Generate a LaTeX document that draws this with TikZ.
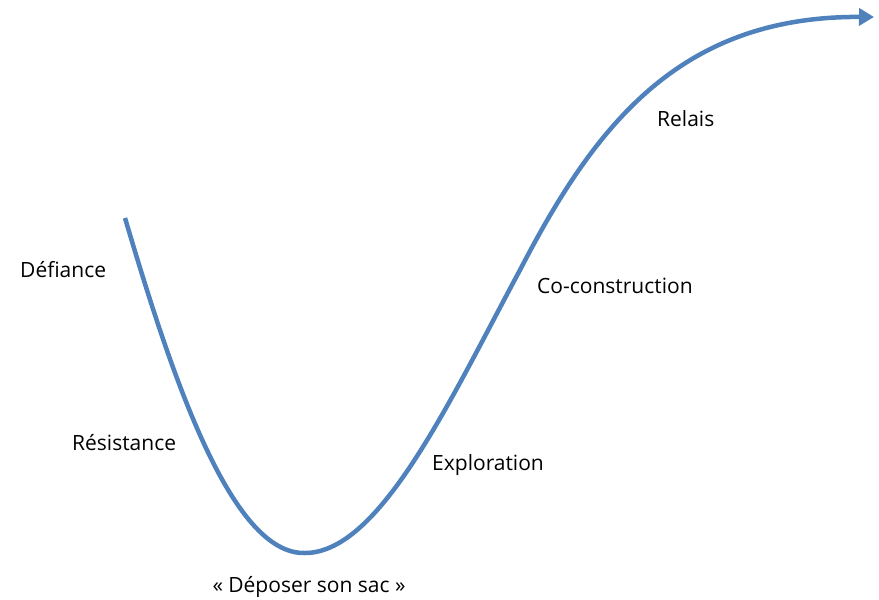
\documentclass[tikz,border=0pt]{standalone}
\usepackage{fontspec}
\setmainfont{Open Sans}
\usetikzlibrary{arrows.meta}
\definecolor{curveblue}{HTML}{4F81BD}

\begin{document}
\begin{tikzpicture}[x=1pt,y=-1pt,label/.style={font=\fontsize{21}{24}\selectfont,inner sep=0pt}]
  \useasboundingbox (0,0) rectangle (879,600);
  \coordinate (start) at (125,218);
  \coordinate (bottom) at (305,553);
  \coordinate (mid) at (520,270);
  \coordinate (end) at (874,17);
  \draw [curveblue,line width=4.5pt,-{Triangle[length=15pt,width=17pt]}]
    (start) .. controls (170,370) and (230,555) .. (bottom)
    .. controls (380,553) and (450,400) .. (mid)
    .. controls (595,125) and (680,16) .. (end);
  \node [label,anchor=west] (defiance) at (20,270) {Défiance};
  \node [label,anchor=west] (resistance) at (72,443) {Résistance};
  \node [label] (sac) at (309,587) {« Déposer son sac »};
  \node [label,anchor=west] (exploration) at (432,465) {Exploration};
  \node [label,anchor=west] (coconstruction) at (537,286) {Co-construction};
  \node [label,anchor=west] (relais) at (657,119) {Relais};
\end{tikzpicture}
\end{document}
